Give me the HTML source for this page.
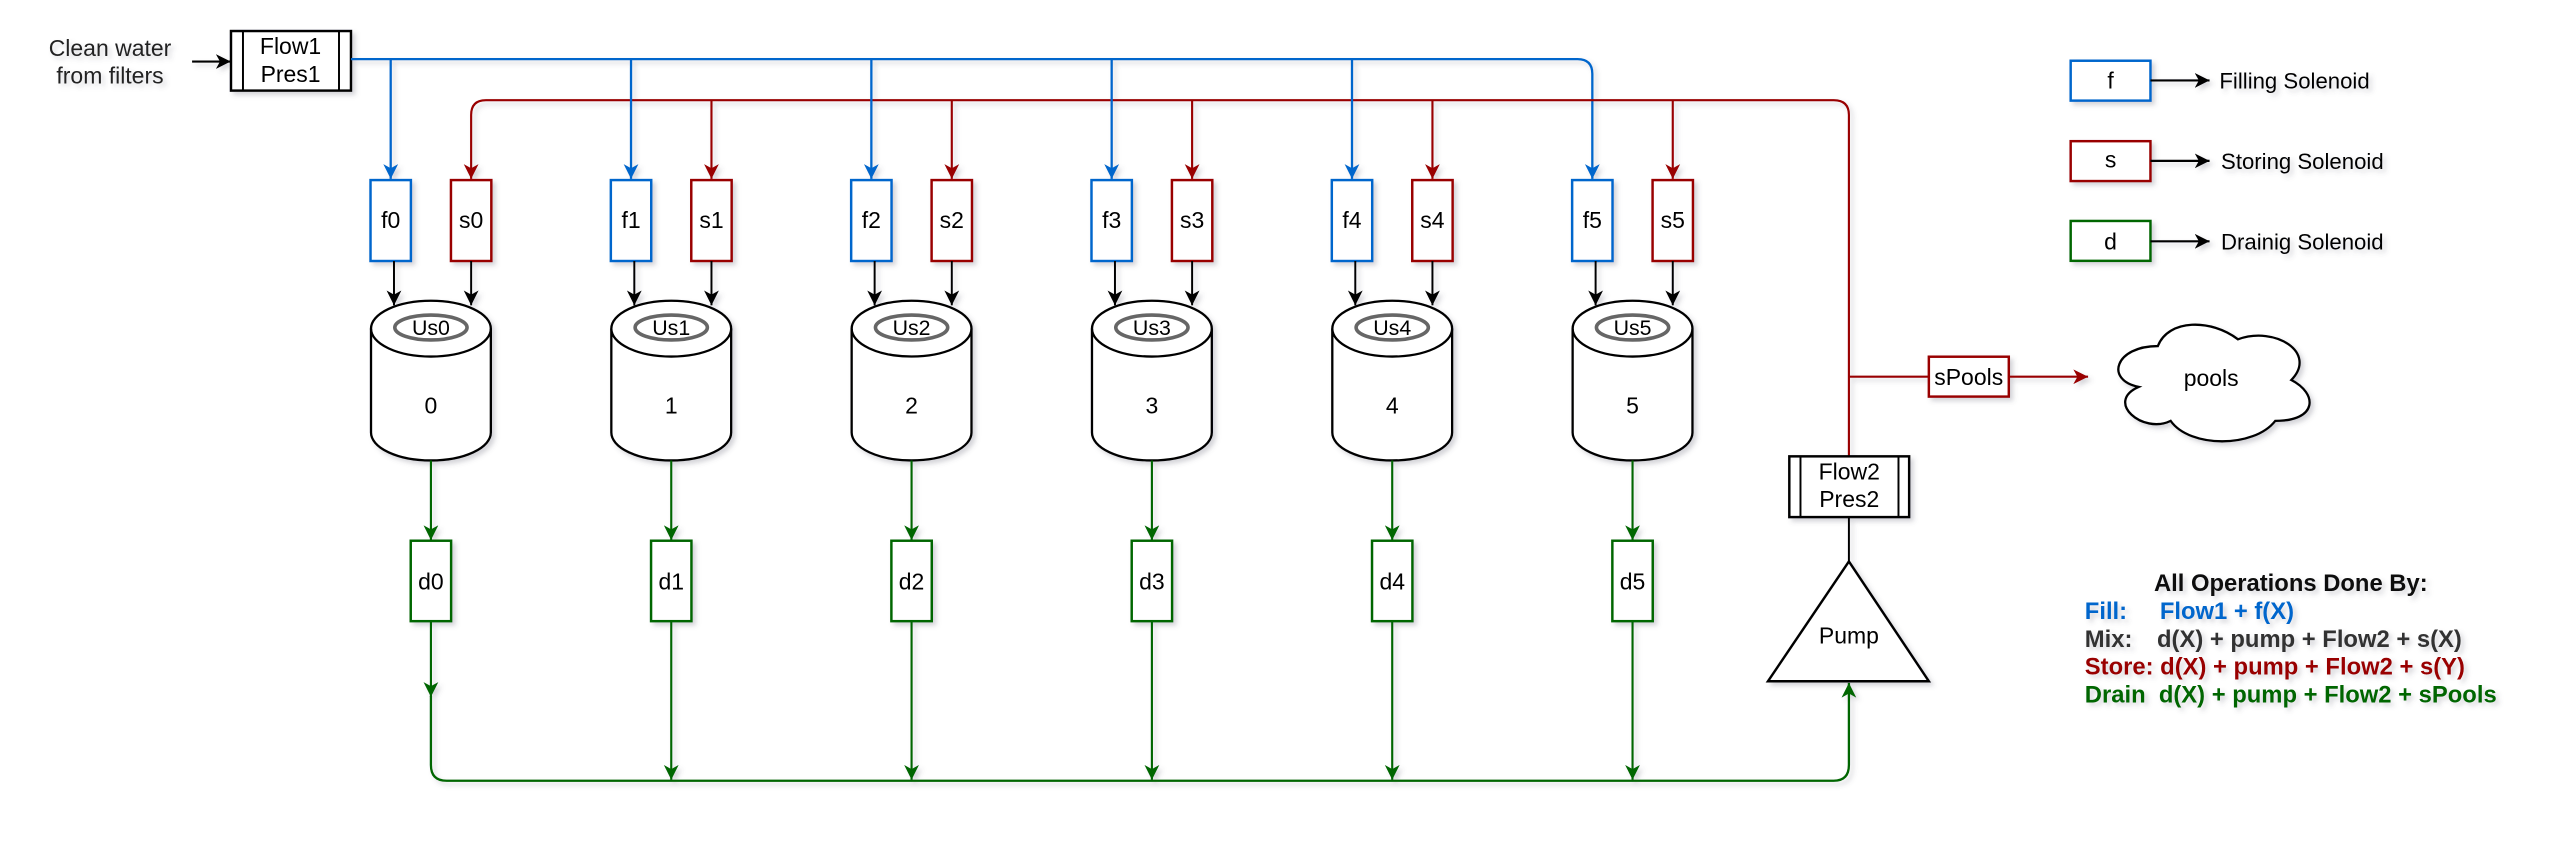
<!DOCTYPE html>
<html><head><meta charset="utf-8"><style>
html,body{margin:0;padding:0;background:#fff;}
svg{display:block;font-family:"Liberation Sans",Arial,sans-serif;}
</style></head><body>
<svg id="chart" width="2574" height="850" viewBox="0 0 1568 517.8" xmlns="http://www.w3.org/2000/svg">
<defs>
<filter id="sh" x="-20%" y="-20%" width="150%" height="150%"><feDropShadow dx="2" dy="2" stdDeviation="1.5" flood-color="#556" flood-opacity="0.25"/></filter>
<marker id="mb" markerUnits="userSpaceOnUse" markerWidth="10" markerHeight="10" refX="9" refY="5" orient="auto"><path d="M0,0.5 L9,5 L0,9.5 L2.5,5z" fill="#0066CC"/></marker>
<marker id="mr" markerUnits="userSpaceOnUse" markerWidth="10" markerHeight="10" refX="9" refY="5" orient="auto"><path d="M0,0.5 L9,5 L0,9.5 L2.5,5z" fill="#990000"/></marker>
<marker id="mg" markerUnits="userSpaceOnUse" markerWidth="10" markerHeight="10" refX="9" refY="5" orient="auto"><path d="M0,0.5 L9,5 L0,9.5 L2.5,5z" fill="#006600"/></marker>
<marker id="mk" markerUnits="userSpaceOnUse" markerWidth="10" markerHeight="10" refX="9" refY="5" orient="auto"><path d="M0,0.5 L9,5 L0,9.5 L2.5,5z" fill="#000"/></marker>
</defs>
<g filter="url(#sh)" font-size="14">
<text x="67" y="34" text-anchor="middle" fill="#222">Clean water</text>
<text x="67" y="51" text-anchor="middle" fill="#222">from filters</text>
<line x1="117" y1="37.5" x2="140.5" y2="37.5" stroke="#000" stroke-width="1.3" marker-end="url(#mk)"/>
<g>
<rect x="140.7" y="18.9" width="73.1" height="36.3" fill="#fff" stroke="#000" stroke-width="1.5"/>
<line x1="148" y1="18.9" x2="148" y2="55.2" stroke="#000" stroke-width="1.2"/>
<line x1="206.5" y1="18.9" x2="206.5" y2="55.2" stroke="#000" stroke-width="1.2"/>
<text x="177" y="33" text-anchor="middle">Flow1</text>
<text x="177" y="50" text-anchor="middle">Pres1</text>
</g>
<path d="M213.8,36 L961,36 Q970,36 970,45 L970,109" fill="none" stroke="#0066CC" stroke-width="1.4" marker-end="url(#mb)"/>
<path d="M1126.3,278 L1126.3,70 Q1126.3,61 1117,61 L296,61 Q287,61 287,70 L287,109" fill="none" stroke="#990000" stroke-width="1.3" marker-end="url(#mr)"/>
<line x1="1126.3" y1="229.5" x2="1175" y2="229.5" stroke="#990000" stroke-width="1.3"/>
<line x1="1223.7" y1="229.5" x2="1272" y2="229.5" stroke="#990000" stroke-width="1.3" marker-end="url(#mr)"/>
<g>
<rect x="1175" y="217.3" width="48.7" height="24.3" fill="#fff" stroke="#990000" stroke-width="1.5"/>
<text x="1199.3" y="234.5" text-anchor="middle">sPools</text>
</g>
<g>
<path d="M1314.5,210.8 C1288.5,210.8 1282,231.5 1302.8,235.7 C1282,244.8 1305.4,264.7 1322.3,256.4 C1334,273 1373,273 1386,256.4 C1412,256.4 1412,239.8 1395.8,231.5 C1412,214.9 1386,198.4 1363.3,206.7 C1347,194.2 1321,194.2 1314.5,210.8Z" fill="#fff" stroke="#000" stroke-width="1.4"/>
<text x="1347" y="235" text-anchor="middle">pools</text>
</g>
<g>
<rect x="1090" y="278" width="73" height="37" fill="#fff" stroke="#000" stroke-width="1.5"/>
<line x1="1096.8" y1="278" x2="1096.8" y2="315" stroke="#000" stroke-width="1.2"/>
<line x1="1156.5" y1="278" x2="1156.5" y2="315" stroke="#000" stroke-width="1.2"/>
<text x="1126.5" y="292" text-anchor="middle">Flow2</text>
<text x="1126.5" y="309" text-anchor="middle">Pres2</text>
</g>
<line x1="1126.3" y1="315" x2="1126.3" y2="342" stroke="#000" stroke-width="1.2"/>
<g>
<path d="M1126.3,342 L1175,415 L1077,415Z" fill="#fff" stroke="#000" stroke-width="1.5"/>
<text x="1126.3" y="392" text-anchor="middle">Pump</text>
</g>
<path d="M262.5,424 L262.5,466 Q262.5,475.6 272,475.6 L1117,475.6 Q1126.3,475.6 1126.3,466 L1126.3,416" fill="none" stroke="#006600" stroke-width="1.4" marker-end="url(#mg)"/>
<g id="cols"></g>
<g>
<rect x="1261.4" y="37" width="48.6" height="24.3" fill="#fff" stroke="#0066CC" stroke-width="1.5"/>
<text x="1285.7" y="54" text-anchor="middle">f</text>
<line x1="1310" y1="49" x2="1346" y2="49" stroke="#000" stroke-width="1.3" marker-end="url(#mk)"/>
<text x="1352" y="54" font-size="13.5">Filling Solenoid</text>
<rect x="1261.4" y="86" width="48.6" height="24.3" fill="#fff" stroke="#990000" stroke-width="1.5"/>
<text x="1285.7" y="102" text-anchor="middle">s</text>
<line x1="1310" y1="98" x2="1346" y2="98" stroke="#000" stroke-width="1.3" marker-end="url(#mk)"/>
<text x="1353" y="103" font-size="13.5">Storing Solenoid</text>
<rect x="1261.4" y="134.6" width="48.6" height="24.3" fill="#fff" stroke="#006600" stroke-width="1.5"/>
<text x="1285.7" y="152" text-anchor="middle">d</text>
<line x1="1310" y1="147" x2="1346" y2="147" stroke="#000" stroke-width="1.3" marker-end="url(#mk)"/>
<text x="1353" y="152" font-size="13.5">Drainig Solenoid</text>
</g>
<g font-weight="bold" font-size="14.5">
<text x="1395.5" y="360" text-anchor="middle" fill="#111">All Operations Done By:</text>
<text x="1270" y="377" fill="#0066CC">Fill:</text><text x="1315.7" y="377" fill="#0066CC">Flow1 + f(X)</text>
<text x="1270" y="394" fill="#333">Mix:</text><text x="1314" y="394" fill="#333">d(X) + pump + Flow2 + s(X)</text>
<text x="1270" y="411" fill="#990000">Store: d(X) + pump + Flow2 + s(Y)</text>
<text x="1270" y="428" fill="#006600">Drain&#160; d(X) + pump + Flow2 + sPools</text>
</g>
</g>
</svg>
<script>
const tankIds = [0, 1, 2, 3, 4, 5];
const NS = 'http://www.w3.org/2000/svg';
const cols = document.getElementById('cols');
function mk(tag, attrs, parent, txt) {
  const e = document.createElementNS(NS, tag);
  for (const k in attrs) e.setAttribute(k, attrs[k]);
  if (txt !== undefined) e.textContent = txt;
  parent.appendChild(e);
  return e;
}
const step = 146.4;
tankIds.forEach((id, i) => {
  const fx = 238 + step * i, sx = 287 + step * i, cx = 262.5 + step * i;
  const g = mk('g', {}, cols);
  
  
  if (i < 5) {
    const bl = mk('line', {x1: fx, y1: 36, x2: fx, y2: 109, stroke: '#0066CC', 'stroke-width': 1.4, 'marker-end': 'url(#mb)'}, g);
    
    
  }
  if (i > 0) {
    const rl = mk('line', {x1: sx, y1: 61, x2: sx, y2: 109, stroke: '#990000', 'stroke-width': 1.3, 'marker-end': 'url(#mr)'}, g);
    
    
  }
  const fb = mk('g', {}, g);
  
  
  mk('rect', {x: fx - 12.3, y: 109.7, width: 24.6, height: 49.3, fill: '#fff', stroke: '#0066CC', 'stroke-width': 1.5}, fb);
  mk('text', {x: fx, y: 139, 'text-anchor': 'middle'}, fb, 'f' + id);
  const sb = mk('g', {}, g);
  
  
  mk('rect', {x: sx - 12.3, y: 109.7, width: 24.6, height: 49.3, fill: '#fff', stroke: '#990000', 'stroke-width': 1.5}, sb);
  mk('text', {x: sx, y: 139, 'text-anchor': 'middle'}, sb, 's' + id);
  const a1 = mk('line', {x1: fx + 2, y1: 159, x2: fx + 2, y2: 186, stroke: '#000', 'stroke-width': 1.2, 'marker-end': 'url(#mk)'}, g);
  
  
  const a2 = mk('line', {x1: sx, y1: 159, x2: sx, y2: 186, stroke: '#000', 'stroke-width': 1.2, 'marker-end': 'url(#mk)'}, g);
  
  
  const t = mk('g', {}, g);
  
  
  const rx = 36.5, ry = 17, top = 183.2, bot = 280.5;
  mk('path', {d: `M${cx-rx},${top+ry} A${rx},${ry} 0 0 1 ${cx+rx},${top+ry} L${cx+rx},${bot-ry} A${rx},${ry} 0 0 1 ${cx-rx},${bot-ry} Z`, fill: '#fff', stroke: '#000', 'stroke-width': 1.4}, t);
  mk('path', {d: `M${cx-rx},${top+ry} A${rx},${ry} 0 0 0 ${cx+rx},${top+ry}`, fill: 'none', stroke: '#000', 'stroke-width': 1.4}, t);
  const us = mk('ellipse', {cx: cx, cy: 199.5, rx: 22, ry: 7.6, fill: '#fff', stroke: '#666', 'stroke-width': 2.2}, t);
  
  
  mk('text', {x: cx, y: 204, 'text-anchor': 'middle', 'font-size': 13}, t, 'Us' + id);
  mk('text', {x: cx, y: 252, 'text-anchor': 'middle'}, t, String(id));
  const gl = mk('line', {x1: cx, y1: 280.5, x2: cx, y2: 329, stroke: '#006600', 'stroke-width': 1.3, 'marker-end': 'url(#mg)'}, g);
  
  
  const db = mk('g', {}, g);
  
  
  mk('rect', {x: cx - 12.3, y: 329.4, width: 24.6, height: 49, fill: '#fff', stroke: '#006600', 'stroke-width': 1.5}, db);
  mk('text', {x: cx, y: 359, 'text-anchor': 'middle'}, db, 'd' + id);
  const gl2 = mk('line', {x1: cx, y1: 378.4, x2: cx, y2: i === 0 ? 424.5 : 475, stroke: '#006600', 'stroke-width': 1.3, 'marker-end': 'url(#mg)'}, g);
  
  
});
</script>
</body></html>
